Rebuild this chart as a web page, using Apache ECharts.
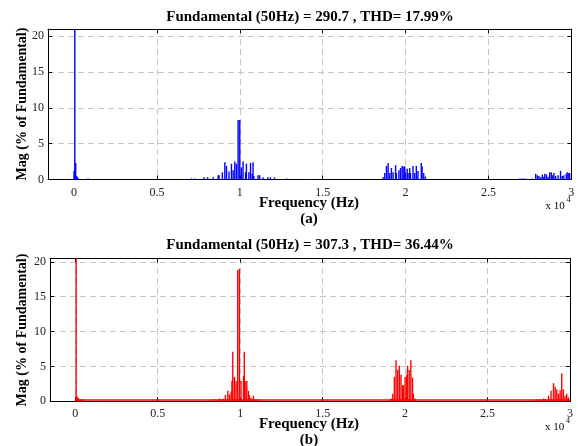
<!DOCTYPE html>
<html><head><meta charset="utf-8">
<script src="https://cdn.jsdelivr.net/npm/echarts@6/dist/echarts.min.js"></script>
<style>html,body{margin:0;padding:0;background:#fff}#c{width:578px;height:446px}</style>
</head><body><div id="c"></div>
<script>
// ---- Data (a): blue spectrum, frequency in Hz, magnitude in % of fundamental
const freqA = [0, 50, 100, 150, 200, 250, 850,
  7100, 7300, 7850, 8050, 8150, 8400, 8700, 8750, 8950, 9100, 9200, 9350, 9500, 9600, 9700, 9800, 9900, 10000,
  10100, 10200, 10350, 10400, 10550, 10650, 10750, 10800, 10850, 11100, 11200, 11400, 11700, 11850, 12100, 12850,
  18650, 18750, 18850, 18950, 19050, 19150, 19250, 19400, 19450, 19600, 19700, 19800, 19900, 19950, 20000,
  20100, 20150, 20250, 20300, 20450, 20550, 20650, 20750, 20950, 21000, 21100, 21200,
  26900, 27050, 27200, 27650, 27850, 27950, 28050, 28150, 28250, 28300, 28400, 28500, 28600, 28700, 28800,
  28850, 28950, 29050, 29200, 29350, 29450, 29550, 29700, 29750, 29850, 29900];
const magA = [1.2, 100, 2.3, 0.5, 0.3, 0.2, 0.15,
  0.15, 0.15, 0.3, 0.3, 0.15, 0.3, 0.6, 0.6, 1.0, 2.4, 1.9, 1.1, 2.2, 1.3, 2.5, 2.2, 8.3, 8.3,
  1.7, 2.5, 1.0, 2.2, 1.0, 2.3, 0.8, 2.4, 0.5, 0.6, 0.6, 0.3, 0.3, 0.3, 0.3, 0.15,
  0.3, 0.9, 1.9, 2.3, 0.9, 1.6, 1.0, 2.0, 0.9, 1.3, 1.6, 1.9, 1.8, 1.8, 0.9,
  1.5, 0.9, 1.6, 0.9, 1.9, 0.9, 1.9, 1.2, 2.3, 1.8, 0.9, 0.4,
  0.15, 0.15, 0.15, 0.15, 0.8, 0.6, 0.5, 0.3, 0.7, 0.4, 0.8, 0.7, 0.4, 1.0, 1.0,
  0.6, 0.9, 0.5, 0.6, 1.2, 0.5, 0.6, 0.8, 1.0, 0.9, 0.9];

// ---- Data (b): red spectrum
const freqB = [50, 100, 150, 200, 300, 400,
  8200, 8450, 8650, 8750, 8900, 8950, 9100, 9250, 9350, 9450, 9500, 9550, 9650, 9750, 9850, 9950,
  10050, 10200, 10250, 10300, 10400, 10500, 10550, 10650, 10800, 10900, 11050, 11200,
  19150, 19250, 19350, 19450, 19550, 19650, 19750, 19850, 19900, 20000, 20100, 20150, 20250, 20350, 20450, 20500, 20600,
  27800, 28000, 28200, 28400, 28500, 28700, 28850, 29000, 29100, 29200, 29300, 29400, 29500, 29600, 29700, 29800, 29900];
const magB = [100, 0.75, 0.5, 0.4, 0.3, 0.25,
  0.15, 0.3, 0.2, 0.4, 0.2, 0.4, 0.9, 1.5, 1.0, 1.4, 2.9, 7.1, 3.5, 2.9, 18.8, 19.0,
  2.9, 3.6, 7.1, 2.9, 2.9, 1.5, 0.9, 0.5, 0.8, 0.3, 0.3, 0.2,
  0.4, 1.1, 3.5, 5.9, 4.5, 5.1, 3.8, 2.3, 2.3, 3.5, 3.8, 5.1, 4.5, 5.9, 3.4, 1.1, 0.4,
  0.2, 0.3, 0.3, 0.4, 0.3, 0.8, 1.5, 2.6, 2.1, 1.7, 1.1, 1.6, 4.0, 1.7, 0.8, 1.1, 0.6];
// low-level harmonic floor of spectrum (b)
const floorFreqB = [100, 30000];
const floorMagB = [0.2, 0.2];

// ---- Axis / text
const xTickStep = 5000;
const yTickStep = 5;
const titleA = 'Fundamental (50Hz) = 290.7 , THD= 17.99%';
const titleB = 'Fundamental (50Hz) = 307.3 , THD= 36.44%';
const xName = 'Frequency (Hz)';
const yName = 'Mag (% of Fundamental)';

const SERIF = "'Liberation Serif','Times New Roman',serif";
const pairs = (f, m) => f.map((v, i) => [v, m[i]]);

const G = [
  {left: 48, top: 29, width: 523.3, height: 150.5, xmin: -1568, ymax: 21},
  {left: 50, top: 258.3, width: 520, height: 143, xmin: -1534, ymax: 20.5}
];

const gridLine = {show: true, lineStyle: {color: '#c4c4c4', type: [6, 4], width: 1}};
const xAxes = [], yAxes = [];
G.forEach((g, i) => {
  const common = {gridIndex: i, type: 'value', min: g.xmin, max: 30000, splitNumber: 6,
    axisLine: {show: true, onZero: false, lineStyle: {color: '#000', width: 1}},
    axisTick: {show: true, inside: true, length: 4, lineStyle: {color: '#000'}}};
  xAxes.push(Object.assign({}, common, {position: 'bottom',
    axisLabel: {fontFamily: SERIF, fontSize: 12, color: '#222', margin: 7,
      formatter: v => (v % xTickStep === 0 ? String(v / 1e4) : '')},
    splitLine: gridLine}));
  xAxes.push(Object.assign({}, common, {position: 'top', axisLabel: {show: false}, splitLine: {show: false}}));
  const yc = {gridIndex: i, type: 'value', min: 0, max: g.ymax, interval: yTickStep,
    axisLine: {show: true, onZero: false, lineStyle: {color: '#000', width: 1}},
    axisTick: {show: true, inside: true, length: 4, lineStyle: {color: '#000'}}};
  yAxes.push(Object.assign({}, yc, {position: 'left',
    axisLabel: {fontFamily: SERIF, fontSize: 12, color: '#222', margin: 4,
      formatter: v => (v % yTickStep === 0 ? String(v) : '')},
    splitLine: gridLine}));
  yAxes.push(Object.assign({}, yc, {position: 'right', axisLabel: {show: false}, splitLine: {show: false}}));
});

const txt = (x, y, text, size, bold, extra) => Object.assign({
  type: 'text', x: x, y: y, silent: true,
  style: {text: text, fontFamily: SERIF, fontSize: size, fontWeight: bold ? 'bold' : 'normal',
    fill: '#000', textAlign: 'center', textVerticalAlign: 'middle'}
}, extra || {});

const chart = echarts.init(document.getElementById('c'), null, {renderer: 'canvas'});
chart.setOption({
  animation: false,
  backgroundColor: '#fff',
  grid: G.map(g => ({left: g.left, top: g.top, width: g.width, height: g.height, containLabel: false})),
  xAxis: xAxes,
  yAxis: yAxes,
  series: [
    {type: 'bar', xAxisIndex: 0, yAxisIndex: 0, data: pairs(freqA, magA), barWidth: 1.4,
      itemStyle: {color: '#0000ff'}, clip: true},
    {type: 'line', xAxisIndex: 2, yAxisIndex: 2, data: pairs(floorFreqB, floorMagB), symbol: 'none',
      lineStyle: {color: '#ff0000', width: 1.5}, z: 1},
    {type: 'bar', xAxisIndex: 2, yAxisIndex: 2, data: pairs(freqB, magB), barWidth: 1.4,
      itemStyle: {color: '#ff0000'}, clip: true}
  ],
  graphic: [
    txt(310, 17, titleA, 15, true),
    txt(309, 203, xName, 15, true),
    txt(309, 219, '(a)', 15, true),
    txt(555, 206, 'x 10', 11, false),
    txt(568.5, 199.5, '4', 8, false),
    txt(22, 104, yName, 14, true, {rotation: Math.PI / 2}),
    txt(310, 245, titleB, 15, true),
    txt(309, 424, xName, 15, true),
    txt(309, 440, '(b)', 15, true),
    txt(554.5, 427, 'x 10', 11, false),
    txt(568, 420.5, '4', 8, false),
    txt(22, 330, yName, 14, true, {rotation: Math.PI / 2})
  ]
});
</script></body></html>
